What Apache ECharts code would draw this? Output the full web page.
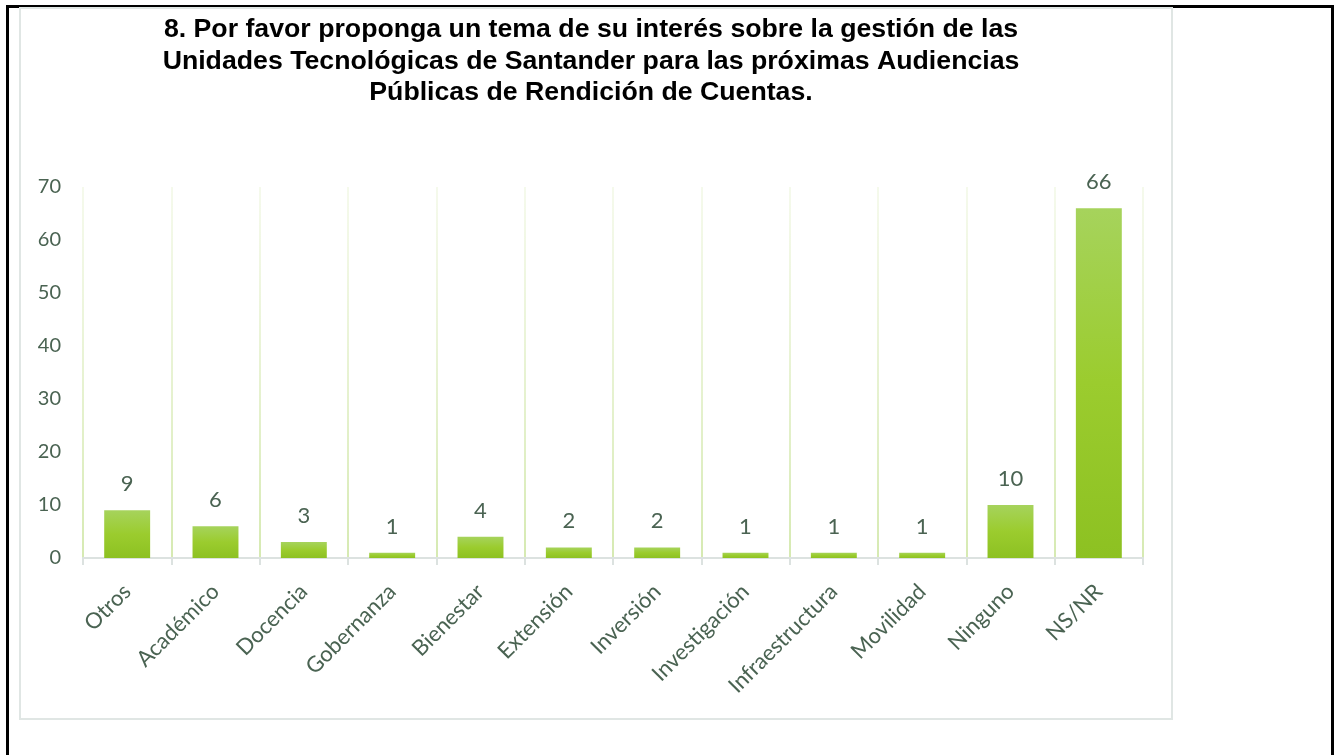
<!DOCTYPE html>
<html>
<head>
<meta charset="utf-8">
<script src="https://cdn.jsdelivr.net/npm/echarts@6/dist/echarts.min.js"></script>
<style>
  html, body { margin: 0; padding: 0; background: #fff; }
  #chart { width: 1336px; height: 755px; }
</style>
</head>
<body>
<div id="chart"></div>
<script>
// categorías y respuestas
const categories = ['Otros', 'Académico', 'Docencia', 'Gobernanza', 'Bienestar', 'Extensión',
  'Inversión', 'Investigación', 'Infraestructura', 'Movilidad', 'Ninguno', 'NS/NR']
const values = [9, 6, 3, 1, 4, 2, 2, 1, 1, 1, 10, 66]
const yTicks = { min: 0, max: 70, interval: 10 }

const textColor = '#4a6352'
const font = 'Lato, "Open Sans", sans-serif'

const chart = echarts.init(document.getElementById('chart'))

const option = {
  backgroundColor: '#fff',
  animation: false,
  title: {
    text: '8. Por favor proponga un tema de su interés sobre la gestión de las\nUnidades Tecnológicas de Santander para las próximas Audiencias\nPúblicas de Rendición de Cuentas.',
    left: 591,
    top: 14,
    padding: 0,
    textAlign: 'center',
    textStyle: {
      fontFamily: '"Liberation Sans", Arial, sans-serif',
      fontWeight: 'bold',
      fontSize: 26.7,
      lineHeight: 31.5,
      color: '#000'
    }
  },
  // marcos del documento y del gráfico
  graphic: [
    {
      type: 'rect',
      shape: { x: 7.5, y: 6.5, width: 1325, height: 800 },
      style: { fill: 'none', stroke: '#000', lineWidth: 3 },
      silent: true
    },
    {
      type: 'rect',
      shape: { x: 20, y: 8, width: 1152, height: 711 },
      style: { fill: 'none', stroke: '#e0e6e4', lineWidth: 2 },
      silent: true
    }
  ],
  grid: { left: 83, right: 193, top: 187, bottom: 197, containLabel: false },
  xAxis: {
    type: 'category',
    data: categories,
    axisLine: { show: true, lineStyle: { color: '#dce2e0', width: 2 } },
    axisTick: { show: true, length: 7, lineStyle: { color: '#dce2e0', width: 2 } },
    splitLine: {
      show: true,
      lineStyle: {
        width: 2,
        color: new echarts.graphic.LinearGradient(0, 187, 0, 558, [
          { offset: 0, color: 'rgba(226,239,200,0.35)' },
          { offset: 1, color: 'rgba(214,234,178,1)' }
        ], true)
      }
    },
    axisLabel: {
      rotate: 45,
      margin: 30,
      interval: 0,
      color: textColor,
      fontFamily: font,
      fontSize: 22
    }
  },
  yAxis: {
    type: 'value',
    min: yTicks.min,
    max: yTicks.max,
    interval: yTicks.interval,
    splitLine: { show: false },
    axisLine: { show: false },
    axisTick: { show: false },
    axisLabel: {
      margin: 22,
      color: textColor,
      fontFamily: font,
      fontSize: 20
    }
  },
  series: [{
    type: 'bar',
    data: values,
    barWidth: '52%',
    itemStyle: {
      color: new echarts.graphic.LinearGradient(0, 0, 0, 1, [
        { offset: 0, color: '#a6d35c' },
        { offset: 0.5, color: '#9bcc2e' },
        { offset: 1, color: '#8dc122' }
      ])
    },
    label: {
      show: true,
      position: 'top',
      distance: 15,
      color: textColor,
      fontFamily: font,
      fontSize: 22
    }
  }]
}

chart.setOption(option)
</script>
</body>
</html>
